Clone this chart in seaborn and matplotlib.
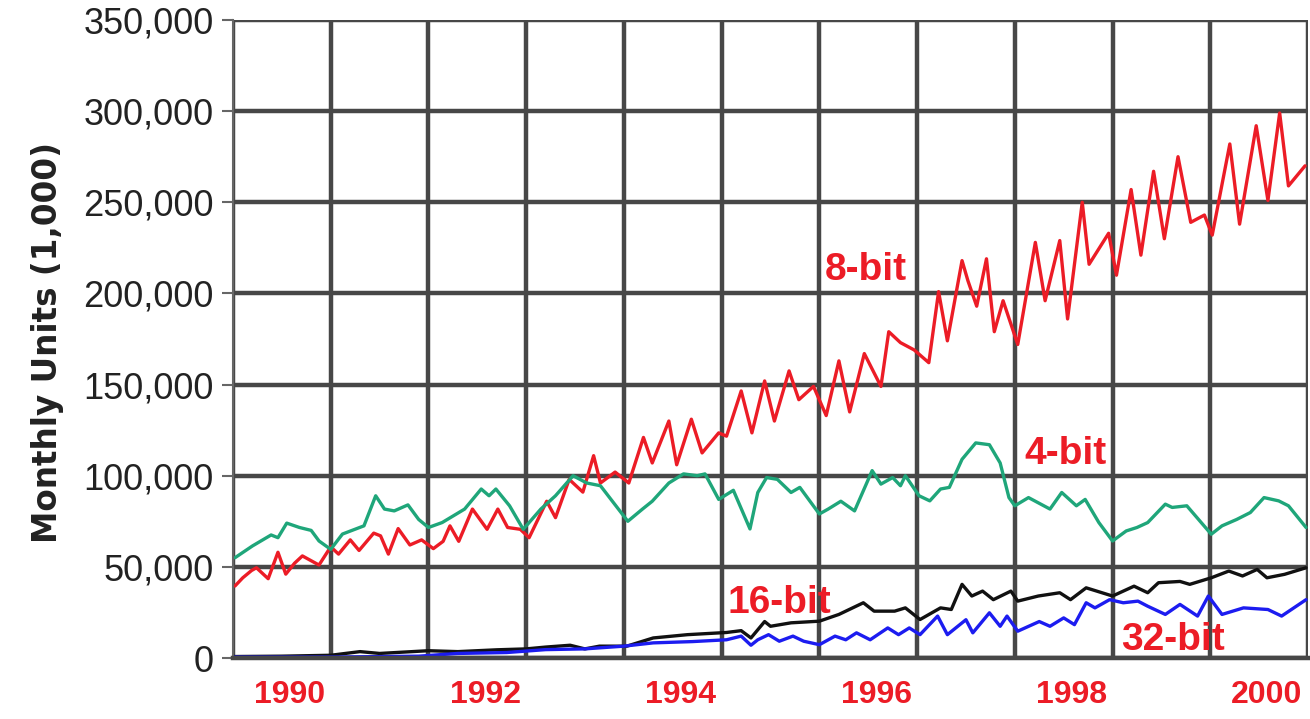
import numpy as np
import pandas as pd
import matplotlib
matplotlib.use("Agg")
import matplotlib.pyplot as plt
import seaborn as sns

# values: time in years after Jan 1990, units in thousands of (1,000)
t_8bit = [0.02, 0.1, 0.19, 0.24, 0.36, 0.46, 0.54, 0.63, 0.71, 0.88, 1.0, 1.08, 1.2, 1.29,
          1.44, 1.51, 1.59, 1.69, 1.81, 1.93, 2.05, 2.15, 2.22, 2.31, 2.45, 2.6, 2.71, 2.81,
          2.94, 3.03, 3.21, 3.3, 3.44, 3.58, 3.69, 3.76, 3.91, 4.05, 4.2, 4.29, 4.46, 4.54,
          4.69, 4.8, 4.97, 5.05, 5.2, 5.31, 5.44, 5.54, 5.69, 5.79, 5.94, 6.07, 6.2, 6.31,
          6.46, 6.63, 6.71, 6.83, 6.97, 7.12, 7.22, 7.31, 7.46, 7.52, 7.61, 7.71, 7.79, 7.88,
          8.03, 8.21, 8.31, 8.46, 8.54, 8.69, 8.76, 8.96, 9.04, 9.19, 9.29, 9.42, 9.53, 9.67,
          9.8, 9.94, 10.02, 10.2, 10.3, 10.47, 10.59, 10.71, 10.8, 10.97]
v_8bit = [39.5, 44, 48, 49.5, 43.5, 58, 46, 52, 56, 51, 61, 57, 64.8, 59,
          68.5, 67, 57, 71, 62, 64.8, 60, 64, 72.5, 64, 81.7, 70.6, 81.7, 71.6,
          70.6, 66, 86, 77, 98, 91, 111, 96, 102, 96, 121, 107, 130, 106,
          131, 112.5, 123.5, 121.7, 146.5, 123.5, 152, 130, 157.5, 141.7, 149, 133, 163, 135,
          167, 149, 179, 173, 169, 162, 201, 174, 218, 207, 193, 219, 179, 196,
          172, 228, 196, 229, 186, 250, 216, 233, 210, 257, 221, 267, 230, 275,
          239, 243, 232, 282, 238, 292, 251, 299, 259, 270]

t_4bit = [0.02, 0.2, 0.39, 0.46, 0.55, 0.68, 0.8, 0.88, 1.0, 1.12, 1.34, 1.46, 1.55, 1.65,
          1.79, 1.9, 2.0, 2.14, 2.37, 2.54, 2.62, 2.69, 2.83, 2.97, 3.15, 3.3, 3.48, 3.62,
          3.76, 4.04, 4.19, 4.29, 4.46, 4.61, 4.75, 4.83, 4.97, 5.12, 5.29, 5.37, 5.46, 5.57,
          5.71, 5.8, 6.0, 6.09, 6.22, 6.36, 6.54, 6.63, 6.75, 6.83, 6.88, 7.02, 7.13, 7.24,
          7.33, 7.46, 7.6, 7.74, 7.85, 7.94, 8.0, 8.14, 8.36, 8.48, 8.63, 8.72, 8.86, 9.0,
          9.14, 9.25, 9.36, 9.54, 9.61, 9.76, 10.01, 10.12, 10.27, 10.41, 10.55, 10.7, 10.8, 10.98]
v_4bit = [55, 61.5, 67.5, 66, 74, 71.6, 70, 64.2, 59.6, 68, 72.5, 89, 81.7, 80.7,
          84, 76, 71.6, 74.3, 81.7, 92.7, 89, 92.7, 83.5, 70.6, 81.7, 89, 100, 96,
          94.5, 75, 81.7, 86, 96, 101, 100, 101, 87, 92, 70.8, 90.8, 99, 98,
          90.8, 93.6, 79, 81.7, 86, 80.7, 102.8, 95.4, 99, 94.5, 100, 89, 86.2, 92.7,
          93.6, 109, 118, 117, 107, 88, 83.5, 88, 81.7, 90.8, 83.5, 87, 74.3, 64.2,
          69.7, 71.6, 74.3, 84.4, 82.6, 83.5, 67.9, 72.5, 76, 79.8, 88, 86.2, 83.5, 71.6]

t_16bit = [0.0, 0.5, 1.0, 1.3, 1.5, 2.0, 2.3, 2.7, 3.0, 3.2, 3.45, 3.6, 3.75, 4.03,
           4.3, 4.65, 5.05, 5.2, 5.3, 5.44, 5.5, 5.71, 6.0, 6.2, 6.45, 6.56, 6.77, 6.88,
           7.03, 7.24, 7.35, 7.46, 7.56, 7.67, 7.78, 7.96, 8.03, 8.24, 8.46, 8.57, 8.73, 9.0,
           9.22, 9.36, 9.47, 9.69, 9.79, 10.01, 10.19, 10.33, 10.48, 10.58, 10.76, 10.98]
v_16bit = [0.8, 1, 1.5, 3.5, 2.5, 4, 3.5, 4.5, 5, 6, 7, 5, 6.5, 6.5,
           11, 12.8, 14, 15, 11, 20, 17.4, 19.3, 20.2, 23.9, 30.3, 25.7, 25.7, 27.5,
           21.1, 27.5, 26.6, 40.4, 34, 36.7, 32, 36.7, 31.2, 34, 35.8, 32, 38.5, 34,
           39.4, 35.8, 41.3, 42, 40.4, 44, 47.7, 45, 48.6, 44, 45.9, 49.5]

t_32bit = [0.0, 1.0, 1.9, 2.3, 2.8, 3.2, 3.6, 4.0, 4.3, 4.7, 5.05, 5.2, 5.3, 5.37,
           5.48, 5.59, 5.73, 5.84, 6.0, 6.16, 6.27, 6.38, 6.52, 6.7, 6.81, 6.92, 7.03, 7.21,
           7.31, 7.5, 7.57, 7.74, 7.85, 7.92, 8.03, 8.25, 8.36, 8.5, 8.61, 8.73, 8.82, 8.97,
           9.11, 9.26, 9.36, 9.54, 9.69, 9.87, 9.98, 10.12, 10.34, 10.59, 10.73, 10.98]
v_32bit = [0.5, 0.5, 1, 2.5, 3, 4.6, 5, 6.5, 8.3, 9, 10, 12, 7, 10,
           12.8, 9.2, 12, 9.2, 7.3, 12, 10, 13.8, 10, 16.5, 12.8, 16.5, 12.8, 23,
           12.8, 21, 13.8, 24.8, 17.4, 23, 14.7, 20, 17.4, 22, 18.3, 30.3, 27.5, 32,
           30.3, 31.2, 28.4, 23.9, 29.4, 23, 34, 23.9, 27.5, 26.6, 23, 32]

series_names = ["8-bit", "4-bit", "16-bit", "32-bit"]
series_colors = ["#ec1c26", "#1fa67a", "#111111", "#1c1cf0"]
year_labels = ["1990", "1992", "1994", "1996", "1998", "2000"]
start_year = 1990

frames = []
for name, t, v in [("8-bit", t_8bit, v_8bit), ("4-bit", t_4bit, v_4bit),
                   ("16-bit", t_16bit, v_16bit), ("32-bit", t_32bit, v_32bit)]:
    frames.append(pd.DataFrame({"year": start_year + np.array(t),
                                "units": np.array(v) * 1000,
                                "series": name}))
df = pd.concat(frames, ignore_index=True)

sns.set_style("white")
plt.rcParams["font.family"] = ["Liberation Sans", "DejaVu Sans"]

fig = plt.figure(figsize=(13.1, 7.19), dpi=100)
ax = fig.add_axes([233 / 1310, 61 / 719, 1075 / 1310, 638 / 719])

sns.lineplot(data=df, x="year", y="units", hue="series", hue_order=series_names,
             palette=series_colors, estimator=None, sort=True, legend=False,
             linewidth=2.4, ax=ax)

ax.set_xlim(1990, 2001)
ax.set_ylim(0, 350000)

# year grid, labels sit between grid lines
ax.set_xticks(np.arange(1990, 2002, 1))
ax.set_xticklabels([])
ax.tick_params(axis="x", which="major", length=0)
ax.set_xticks([int(y) + 0.58 for y in year_labels], minor=True)
ax.set_xticklabels(year_labels, minor=True, fontsize=23, fontweight="bold", color="#ec1c26")
ax.tick_params(axis="x", which="minor", length=0, pad=16)

ax.set_yticks(np.arange(0, 350001, 50000))
ax.set_yticklabels([f"{v:,}" for v in range(0, 350001, 50000)], fontsize=26, color="#222222")
ax.tick_params(axis="y", which="major", length=8, width=1.5, color="#666666", left=True, pad=6)

ax.grid(True, which="major", color="#474747", linewidth=3.2)
ax.set_axisbelow(True)
for side in ["top", "right"]:
    ax.spines[side].set_visible(False)
ax.spines["left"].set_color("#666666")
ax.spines["left"].set_linewidth(1.5)
ax.spines["bottom"].set_color("#474747")
ax.spines["bottom"].set_linewidth(3.2)

ax.set_xlabel("")
ax.set_ylabel("Monthly Units (1,000)", fontsize=23.5, fontweight="semibold",
              family=["DejaVu Sans"], color="#222222")
ax.yaxis.set_label_coords(-0.157, 0.495)

# series labels
label_kw = dict(fontsize=28, fontweight="bold", color="#ec1c26", va="center", ha="left")
ax.text(1996.06, 213000, "8-bit", **label_kw)
ax.text(1998.10, 112000, "4-bit", **label_kw)
ax.text(1995.06, 30000, "16-bit", **label_kw)
ax.text(1999.09, 10000, "32-bit", **label_kw)

fig.savefig("out.png", dpi=100)
